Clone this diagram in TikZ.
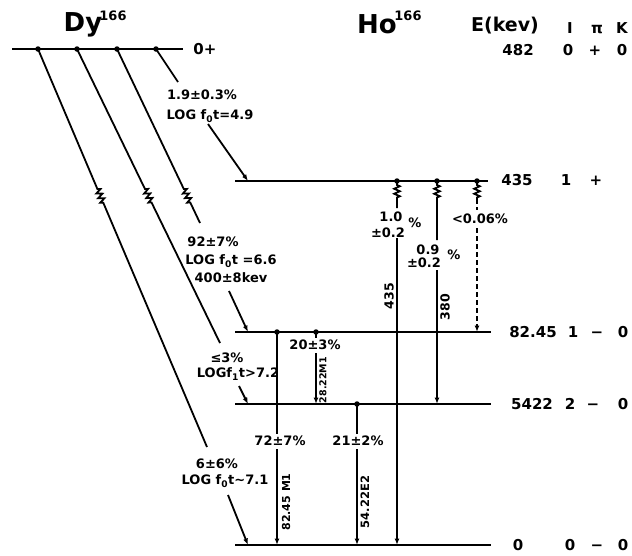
\documentclass[tikz,border=0pt]{standalone}
\usepackage{fontspec}
\setmainfont{DejaVu Sans}
\usetikzlibrary{arrows.meta,decorations.pathmorphing}
\begin{document}
\begin{tikzpicture}[x=1pt,y=-1pt,
  lvl/.style={line width=2.3pt},
  tr/.style={line width=1.8pt},
  arr/.style={tr,-{Latex[length=6.5pt,width=5pt]}},
  dsh/.style={dash pattern=on 5pt off 3pt},
  zz/.style={decoration={zigzag,amplitude=2.8pt,segment length=5pt}},
  dot/.style={circle,fill,inner sep=0pt,minimum size=5.5pt},
  lab/.style={inner sep=0pt,font=\bfseries\fontsize{13}{15}\selectfont},
  rl/.style={inner sep=0pt,rotate=90},
  en/.style={inner sep=0pt,anchor=base,font=\bfseries\fontsize{15}{18}\selectfont},
  ttl/.style={inner sep=0pt,font=\bfseries\fontsize{26}{28}\selectfont},
  sup/.style={inner sep=0pt,font=\bfseries\fontsize{13}{15}\selectfont},
  hdr/.style={inner sep=0pt,anchor=base,font=\bfseries\fontsize{19}{22}\selectfont}
]
\useasboundingbox (0,0) rectangle (632,555);

% ---------- titles / header
\node[ttl] (dyt) at (83,25) {Dy};
\node[sup] (dys) at (113,16) {166};
\node[ttl] (hot) at (377,24) {Ho};
\node[sup] (hos) at (408,16) {166};
\node[hdr] (ekev) at (505,31) {E(kev)};
\node[en] (hI) at (570,33.5) {I};
\node[en] (hpi) at (597,33.5) {π};
\node[en] (hK) at (622,33.5) {K};

% ---------- levels
\coordinate (dyL) at (12,49);  \coordinate (dyR) at (183,49);
\coordinate (aL) at (235,181); \coordinate (aR) at (488,181);
\coordinate (bL) at (235,332); \coordinate (bR) at (491,332);
\coordinate (cL) at (235,404); \coordinate (cR) at (491,404);
\coordinate (gL) at (235,545); \coordinate (gR) at (491,545);
\draw[lvl] (dyL) -- (dyR);
\draw[lvl] (aL) -- (aR);
\draw[lvl] (bL) -- (bR);
\draw[lvl] (cL) -- (cR);
\draw[lvl] (gL) -- (gR);

\node[en] (dy0) at (205,54.5) {0+};
\node[en,anchor=base east] (e482) at (534,55.5) {482};
\node[en] (i482) at (568,55.5) {0};
\node[en] (p482) at (595,55.5) {+};
\node[en] (k482) at (622,55.5) {0};
\node[en] (e435) at (517,185.5) {435};
\node[en] (i435) at (566,185.5) {1};
\node[en] (p435) at (596,185.5) {+};
\node[en] (e82) at (533,337.5) {82.45};
\node[en] (i82) at (573,337.5) {1};
\node[en] (p82) at (597,337.5) {−};
\node[en] (k82) at (623,337.5) {0};
\node[en] (e54) at (532,409.5) {5422};
\node[en] (i54) at (570,409.5) {2};
\node[en] (p54) at (593,409.5) {−};
\node[en] (k54) at (623,409.5) {0};
\node[en] (e0) at (518,550.5) {0};
\node[en] (i0) at (570,550.5) {0};
\node[en] (p0) at (597,550.5) {−};
\node[en] (k0) at (623,550.5) {0};

% ---------- beta branches
\node[dot] (d1) at (38,49) {};
\node[dot] (d2) at (77,49) {};
\node[dot] (d3) at (117,49) {};
\node[dot] (d4) at (156,49) {};

% branch to 435
\coordinate (e4) at (178,82);
\draw[tr] (d4.center) -- (e4);
\node[lab] (l4a) at (202,95) {1.9±0.3\%};
\node[lab] (l4b) at (210,116) {LOG f\textsubscript{0}t=4.9};
\coordinate (s4) at (208,124); \coordinate (t4) at (248,181);
\draw[arr] (s4) -- (t4);

% branch to 82.45
\coordinate (z3a) at (183.8,189); \coordinate (z3b) at (190.5,203);
\coordinate (e3) at (200,223);
\draw[tr] (d3.center) -- (z3a) decorate[zz]{-- (z3b)} -- (e3);
\node[lab] (l3a) at (213,242) {92±7\%};
\node[lab] (l3b) at (231,261) {LOG f\textsubscript{0}t =6.6};
\node[lab] (l3c) at (231,278) {400±8kev};
\coordinate (s3) at (229,291); \coordinate (t3) at (248,332);
\draw[arr] (s3) -- (t3);

% branch to 54.22
\coordinate (z2a) at (145,189); \coordinate (z2b) at (151.8,203);
\coordinate (e2) at (220,343);
\draw[tr] (d2.center) -- (z2a) decorate[zz]{-- (z2b)} -- (e2);
\node[lab] (l2a) at (227,358) {≤3\%};
\node[lab] (l2b) at (238,374) {LOGf\textsubscript{1}t>7.2};
\coordinate (s2) at (239,386); \coordinate (t2) at (248,404);
\draw[arr] (s2) -- (t2);

% branch to 0
\coordinate (z1a) at (97.4,189); \coordinate (z1b) at (103.4,203);
\coordinate (e1) at (207,447);
\draw[tr] (d1.center) -- (z1a) decorate[zz]{-- (z1b)} -- (e1);
\node[lab] (l1a) at (217,464) {6±6\%};
\node[lab] (l1b) at (225,481) {LOG f\textsubscript{0}t\textasciitilde 7.1};
\coordinate (s1) at (228,495); \coordinate (t1) at (248,545);
\draw[arr] (s1) -- (t1);

% ---------- gamma transitions from 435
\node[dot] (ga) at (397,181) {};
\node[dot] (gb) at (437,181) {};
\node[dot] (gc) at (477,181) {};

% 435 keV
\coordinate (ga1) at (397,185); \coordinate (ga2) at (397,199);
\coordinate (ga3) at (397,208); \coordinate (ga4) at (397,238);
\coordinate (ga5) at (397,545);
\draw[tr] (ga.center) -- (ga1) decorate[zz]{-- (ga2)} -- (ga3);
\draw[arr] (ga4) -- (ga5);
\node[lab] (la1) at (391,217) {1.0};
\node[lab] (la2) at (388,233) {±0.2};
\node[lab] (la3) at (415,223) {\%};
\node[rl,font=\bfseries\fontsize{12.5}{15}\selectfont] (la4) at (389,296) {435};

% 380 keV
\coordinate (gb1) at (437,185); \coordinate (gb2) at (437,199);
\coordinate (gb3) at (437,240); \coordinate (gb4) at (437,270);
\coordinate (gb5) at (437,404);
\draw[tr] (gb.center) -- (gb1) decorate[zz]{-- (gb2)} -- (gb3);
\draw[arr] (gb4) -- (gb5);
\node[lab] (lb1) at (428,250) {0.9};
\node[lab] (lb2) at (424,263) {±0.2};
\node[lab] (lb3) at (454,255) {\%};
\node[rl,font=\bfseries\fontsize{12.5}{15}\selectfont] (lb4) at (445,307) {380};

% dashed
\coordinate (gc1) at (477,185); \coordinate (gc2) at (477,199);
\coordinate (gc3) at (477,210); \coordinate (gc4) at (477,228);
\coordinate (gc5) at (477,332);
\draw[tr] (gc.center) -- (gc1) decorate[zz]{-- (gc2)};
\draw[tr,dsh] (gc2) -- (gc3);
\draw[arr,dsh] (gc4) -- (gc5);
\node[lab] (lc1) at (480,219) {<0.06\%};

% ---------- gammas from 82.45
\node[dot] (gd) at (277,332) {};
\node[dot] (ge) at (316,332) {};
\coordinate (gd1) at (277,434); \coordinate (gd2) at (277,449);
\coordinate (gd3) at (277,545);
\draw[tr] (gd.center) -- (gd1);
\draw[arr] (gd2) -- (gd3);
\node[lab] (ld1) at (280,441) {72±7\%};
\node[rl,font=\bfseries\fontsize{11}{14}\selectfont] (ld2) at (286,502) {82.45 M1};

\coordinate (ge1) at (316,338); \coordinate (ge2) at (316,353);
\coordinate (ge3) at (316,404);
\draw[tr] (ge.center) -- (ge1);
\draw[arr] (ge2) -- (ge3);
\node[lab] (le1) at (315,345) {20±3\%};
\node[rl,font=\bfseries\fontsize{9.5}{12}\selectfont] (le2) at (323,380) {28.22M1};

% ---------- gamma from 54.22
\node[dot] (gf) at (357,404) {};
\coordinate (gf1) at (357,434); \coordinate (gf2) at (357,449);
\coordinate (gf3) at (357,545);
\draw[tr] (gf.center) -- (gf1);
\draw[arr] (gf2) -- (gf3);
\node[lab] (lf1) at (358,441) {21±2\%};
\node[rl,font=\bfseries\fontsize{11.5}{14}\selectfont] (lf2) at (365,502) {54.22E2};
\end{tikzpicture}
\end{document}
